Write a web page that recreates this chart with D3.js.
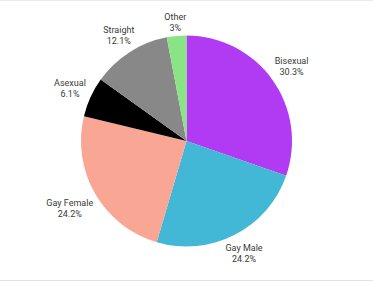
<!DOCTYPE html>
<html>
<head>
<meta charset="utf-8">
<script src="https://cdn.jsdelivr.net/npm/d3@7"></script>
<style>
  html, body { margin: 0; padding: 0; background: #fff; }
  svg { display: block; }
  .lbl { font-family: Roboto, "Open Sans", sans-serif; font-size: 9px; fill: #3a3a3a; }
</style>
</head>
<body>
<div id="chart"></div>
<script>
var categories = ['Bisexual', 'Gay Male', 'Gay Female', 'Asexual', 'Straight', 'Other'];
var percents   = [30.3, 24.2, 24.2, 6.1, 12.1, 3];
var colors     = ['#b03bf2', '#42b8d6', '#f9a694', '#000000', '#888888', '#8ae385'];

var width = 373, height = 282;
var cx = 186.5, cy = 141, radius = 105.5;
var labelGap = 4.5;   // distance between pie edge and nearest corner of a label

var svg = d3.select('#chart').append('svg')
    .attr('width', width)
    .attr('height', height);

// card border, top and bottom
svg.append('line')
    .attr('x1', 0).attr('x2', width).attr('y1', 0.5).attr('y2', 0.5)
    .style('stroke', '#ebebeb');
svg.append('line')
    .attr('x1', 0).attr('x2', width).attr('y1', 280.5).attr('y2', 280.5)
    .style('stroke', '#e3e3e3');

var data = categories.map(function(c, i) { return { name: c, value: percents[i], color: colors[i] }; });

var pie = d3.pie()
    .sort(null)
    .value(function(d) { return d.value; });

var arc = d3.arc().innerRadius(0).outerRadius(radius);

var g = svg.append('g')
    .attr('transform', 'translate(' + cx + ',' + cy + ')');

var arcs = pie(data);

g.selectAll('path.slice')
    .data(arcs)
  .enter().append('path')
    .attr('class', 'slice')
    .attr('d', arc)
    .style('fill', function(d) { return d.data.color; });

var fmt = function(v) { return (Math.round(v * 10) / 10) + '%'; };

var lbl = g.selectAll('text.lbl')
    .data(arcs)
  .enter().append('text')
    .attr('class', 'lbl')
    .attr('text-anchor', 'middle');

lbl.append('tspan')
    .attr('x', 0)
    .attr('y', -2)
    .text(function(d) { return d.data.name; });
lbl.append('tspan')
    .attr('x', 0)
    .attr('y', 9)
    .text(function(d) { return fmt(d.data.value); });

// push each label box out along the slice's mid angle until its
// nearest corner sits just outside the pie
lbl.attr('transform', function(d) {
    var a = (d.startAngle + d.endAngle) / 2;
    var vx = Math.sin(a), vy = -Math.cos(a);
    var hw = this.getBBox().width / 2, hh = 9;
    var target = radius + labelGap;
    var dist = function(t) {
        var dx = Math.max(0, Math.abs(vx * t) - hw);
        var dy = Math.max(0, Math.abs(vy * t) - hh);
        return Math.sqrt(dx * dx + dy * dy);
    };
    var lo = 0, hi = 300;
    for (var i = 0; i < 40; i++)
    {
        var mid = (lo + hi) / 2;
        if (dist(mid) < target) lo = mid; else hi = mid;
    }
    return 'translate(' + (vx * lo) + ',' + (vy * lo) + ')';
});
</script>
</body>
</html>
